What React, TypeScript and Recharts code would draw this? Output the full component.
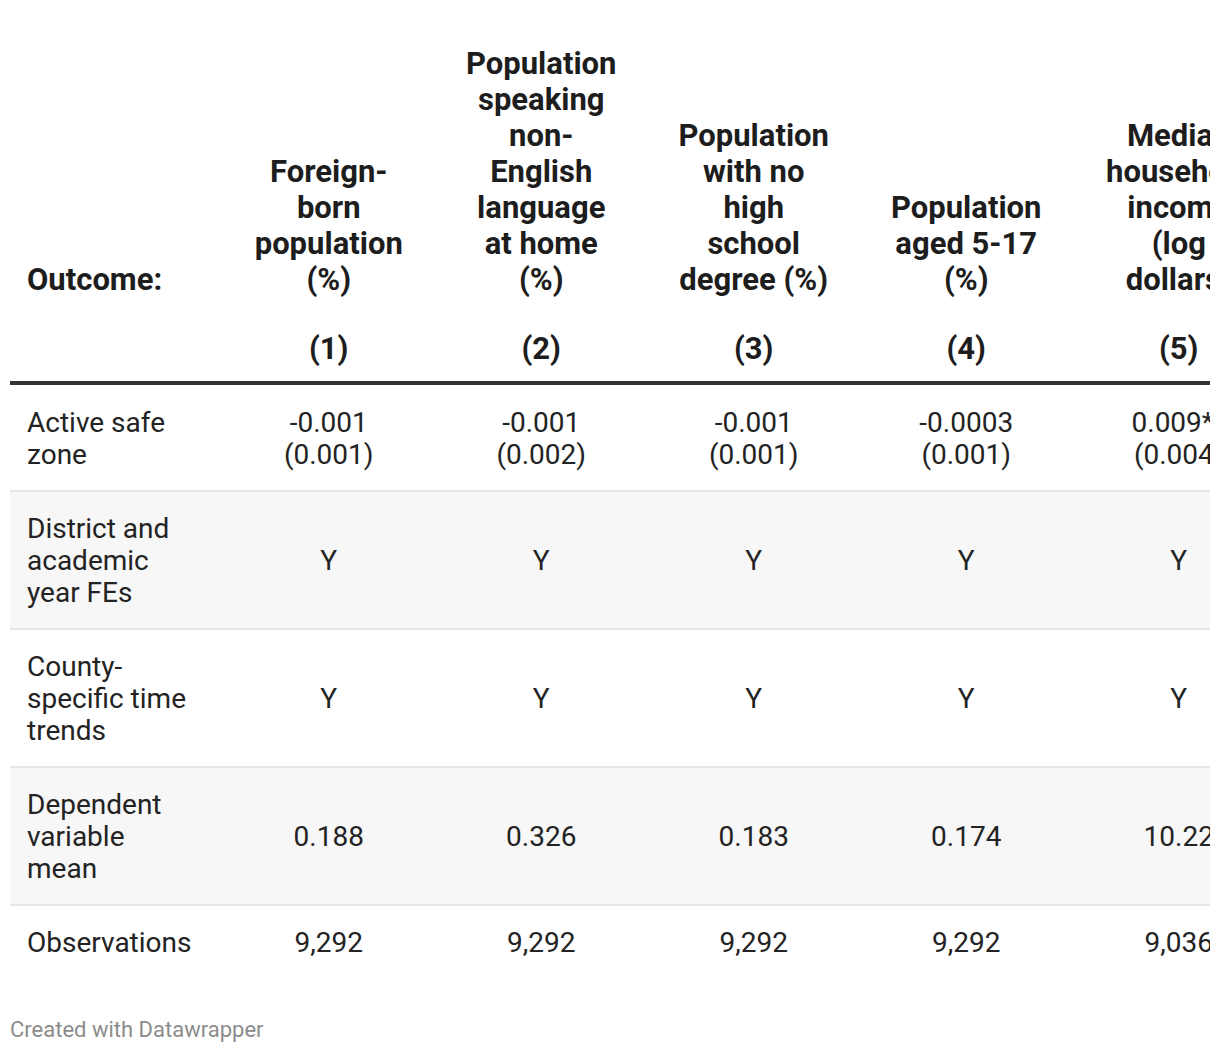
import React from "react";
import { ScatterChart, Scatter, XAxis, YAxis, ReferenceArea, ReferenceLine } from "recharts";

// ---- content ----
const columnNumbers = ["(1)", "(2)", "(3)", "(4)", "(5)"];
const stubHeader = ["Outcome:"];
const outcomeHeaders = [
  ["Foreign-", "born", "population", "(%)"],
  ["Population", "speaking", "non-", "English", "language", "at home", "(%)"],
  ["Population", "with no", "high", "school", "degree (%)"],
  ["Population", "aged 5-17", "(%)"],
  ["Median", "household", "income", "(log", "dollars)"],
];
const rowLabels = [
  ["Active safe", "zone"],
  ["District and", "academic", "year FEs"],
  ["County-", "specific time", "trends"],
  ["Dependent", "variable", "mean"],
  ["Observations"],
];
const coefficients = ["-0.001", "-0.001", "-0.001", "-0.0003", "0.009**"];
const standardErrors = ["(0.001)", "(0.002)", "(0.001)", "(0.001)", "(0.004)"];
const districtYearFEs = ["Y", "Y", "Y", "Y", "Y"];
const countyTimeTrends = ["Y", "Y", "Y", "Y", "Y"];
const dependentMeans = ["0.188", "0.326", "0.183", "0.174", "10.22"];
const observations = ["9,292", "9,292", "9,292", "9,292", "9,036"];
const footerText = "Created with Datawrapper";

// ---- layout ----
const COL_W = 212.5;
const CHART_W = COL_W * 6;
const CHART_H = 1000;
const HEADER_LAST_LINE = 270.5;
const NUMBER_ROW = 339.5;
const RULE_Y = 375;
const BODY_TOP = 377;
const BODY_LH = 32;
const HEAD_LH = 36;
const ROW_PAD = 42;

const bodyValues: string[][][] = [
  coefficients.map((c, i) => [c, standardErrors[i]]),
  districtYearFEs.map((v) => [v]),
  countyTimeTrends.map((v) => [v]),
  dependentMeans.map((v) => [v]),
  observations.map((v) => [v]),
];

type Cell = { x: number; y: number; lines: string[]; kind: "head" | "num" | "body"; stub: boolean };

const rowBounds: { top: number; bottom: number }[] = [];
{
  let top = BODY_TOP;
  rowLabels.forEach((lbl, r) => {
    const n = Math.max(lbl.length, ...bodyValues[r].map((v) => v.length));
    const h = n * BODY_LH + ROW_PAD;
    rowBounds.push({ top, bottom: top + h });
    top += h;
  });
}

const cells: Cell[] = [];
cells.push({ x: 0, y: HEADER_LAST_LINE, lines: stubHeader, kind: "head", stub: true });
outcomeHeaders.forEach((h, i) => cells.push({ x: i + 1.5, y: HEADER_LAST_LINE, lines: h, kind: "head", stub: false }));
columnNumbers.forEach((c, i) => cells.push({ x: i + 1.5, y: NUMBER_ROW, lines: [c], kind: "num", stub: false }));
rowLabels.forEach((lbl, r) => {
  const cy = (rowBounds[r].top + rowBounds[r].bottom) / 2;
  cells.push({ x: 0, y: cy, lines: lbl, kind: "body", stub: true });
  bodyValues[r].forEach((v, i) => cells.push({ x: i + 1.5, y: cy, lines: v, kind: "body", stub: false }));
});

const CellText = (props: any) => {
  const { cx, cy, payload } = props;
  const p: Cell = payload;
  const bold = p.kind !== "body";
  const lh = p.kind === "head" ? HEAD_LH : BODY_LH;
  const n = p.lines.length;
  const firstY = p.kind === "head" ? cy - (n - 1) * lh : cy - ((n - 1) * lh) / 2;
  const x = p.stub ? cx + 17 : cx;
  return (
    <text
      x={x}
      y={firstY}
      textAnchor={p.stub ? "start" : "middle"}
      dominantBaseline="central"
      fontFamily="Roboto, sans-serif"
      fontSize={bold ? 31 : 28}
      fontWeight={bold ? 700 : 400}
      fill={bold ? "#1d1d1d" : "#232323"}
    >
      {p.lines.map((l, i) => (
        <tspan key={i} x={x} y={firstY + i * lh} dominantBaseline="central">
          {l}
        </tspan>
      ))}
    </text>
  );
};

export default function App() {
  return (
    <div style={{ width: 1202, overflow: "hidden", background: "#fff" }}>
      <div style={{ marginLeft: 2, width: 1200, overflow: "hidden" }}>
        <ScatterChart width={CHART_W} height={CHART_H} margin={{ top: 0, right: 0, bottom: 0, left: 0 }}>
          <XAxis type="number" dataKey="x" domain={[0, 6]} hide allowDataOverflow />
          <YAxis type="number" dataKey="y" domain={[0, CHART_H]} reversed hide allowDataOverflow />
          {rowBounds.map((b, r) =>
            r % 2 === 1 ? (
              <ReferenceArea key={"a" + r} x1={0} x2={6} y1={b.top} y2={b.bottom} fill="#f7f7f7" fillOpacity={1} stroke="none" />
            ) : null
          )}
          {rowBounds.slice(0, -1).map((b, r) => (
            <ReferenceLine key={"l" + r} y={b.bottom} stroke="#e6e6e6" strokeWidth={2} />
          ))}
          <ReferenceLine y={RULE_Y} stroke="#333333" strokeWidth={4} />
          <Scatter data={cells} shape={CellText} isAnimationActive={false} />
        </ScatterChart>
      </div>
      <div
        style={{
          marginLeft: 2,
          height: 44,
          lineHeight: "44px",
          fontFamily: "Roboto, sans-serif",
          fontSize: 22,
          color: "#8c8c8c",
        }}
      >
        {footerText}
      </div>
    </div>
  );
}
